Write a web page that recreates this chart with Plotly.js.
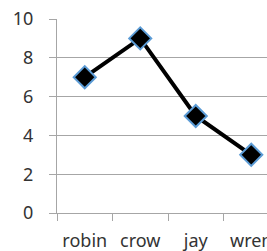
<!DOCTYPE html>
<html><head><meta charset="utf-8">
<script src="https://cdn.plot.ly/plotly-3.0.1.min.js"></script>
<style>html,body{margin:0;padding:0;overflow:hidden;background:#fff}</style>
</head><body>
<div id="chart"></div>
<script>
const categories = ["robin", "crow", "jay", "wren"];
const values = [7, 9, 5, 3];
const yTicks = [0, 2, 4, 6, 8, 10];

const trace = {
  x: categories, y: values, type: "scatter", mode: "lines+markers",
  line: {color: "#000000", width: 4},
  marker: {symbol: "diamond", size: 17, color: "#000000", line: {color: "#5B9BD5", width: 2}},
  cliponaxis: false, hoverinfo: "none"
};
const layout = {
  width: 290, height: 251,
  margin: {l: 57, r: 11, t: 19, b: 38},
  paper_bgcolor: "#fff", plot_bgcolor: "#fff",
  showlegend: false,
  font: {family: "Noto Sans, sans-serif", size: 18, color: "#333"},
  xaxis: {
    type: "category", range: [-0.5, 3.5], fixedrange: true,
    showgrid: false, showline: true, linecolor: "#A6A6A6", linewidth: 1,
    ticks: "outside", tickson: "boundaries", ticklen: 7, tickcolor: "#A6A6A6",
    tickfont: {size: 18, color: "#333"}, ticklabelstandoff: 11
  },
  yaxis: {
    range: [0, 10], tickvals: yTicks, fixedrange: true,
    showgrid: true, gridcolor: "#A6A6A6", gridwidth: 1,
    showline: true, linecolor: "#A6A6A6", linewidth: 1,
    ticks: "outside", ticklen: 7, tickcolor: "#A6A6A6",
    zeroline: false, tickfont: {size: 18, color: "#333"},
    ticklabelstandoff: 12
  }
};
Plotly.newPlot("chart", [trace], layout, {displayModeBar: false, staticPlot: true});
</script>
</body></html>
